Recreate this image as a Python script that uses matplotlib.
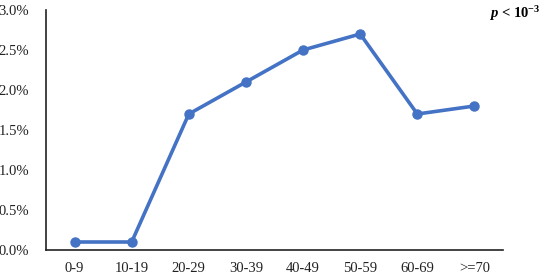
import matplotlib
matplotlib.use("Agg")
import matplotlib.pyplot as plt
from matplotlib.ticker import FuncFormatter

categories = ["0-9", "10-19", "20-29", "30-39", "40-49", "50-59", "60-69", ">=70"]
values = [0.1, 0.1, 1.7, 2.1, 2.5, 2.7, 1.7, 1.8]
yticks = [0.0, 0.5, 1.0, 1.5, 2.0, 2.5, 3.0]

plt.rcParams['font.family'] = ['Liberation Serif', 'DejaVu Serif']
plt.rcParams['mathtext.fontset'] = 'custom'
plt.rcParams['mathtext.rm'] = 'Liberation Serif'
plt.rcParams['mathtext.it'] = 'Liberation Serif:italic'
plt.rcParams['mathtext.bf'] = 'Liberation Serif:bold'
plt.rcParams['mathtext.bfit'] = 'Liberation Serif:bold:italic'

fig = plt.figure(figsize=(5.5, 2.8), dpi=100)
ax = fig.add_axes([46/550, 1-250/280, (503-46)/550, 240/280])

x = list(range(len(categories)))
ax.plot(x, values, color="#4472C4", linewidth=2.6, marker="o", markersize=6.5,
        solid_capstyle="round", solid_joinstyle="round", zorder=3, clip_on=False)

ax.set_xlim(-0.5, len(categories) - 0.5)
ax.set_ylim(0, 3.0)
ax.set_xticks(x)
ax.set_xticklabels(categories)
ax.set_yticks(yticks)
ax.yaxis.set_major_formatter(FuncFormatter(lambda v, p: f"{v:.1f}%"))
ax.tick_params(axis="both", length=0, labelsize=10.5, colors="#222222")
ax.tick_params(axis="x", pad=9)
ax.tick_params(axis="y", pad=12)

for s in ["top", "right"]:
    ax.spines[s].set_visible(False)
for s in ["left", "bottom"]:
    ax.spines[s].set_color("#222222")
    ax.spines[s].set_linewidth(1.2)

fig.text(540/550, 1-18/280, r"$\mathbfit{p}$ < 10$^{\mathbf{-3}}$", ha="right", va="baseline",
         fontsize=10.5, fontweight="bold")

fig.savefig("out.png", dpi=100)
